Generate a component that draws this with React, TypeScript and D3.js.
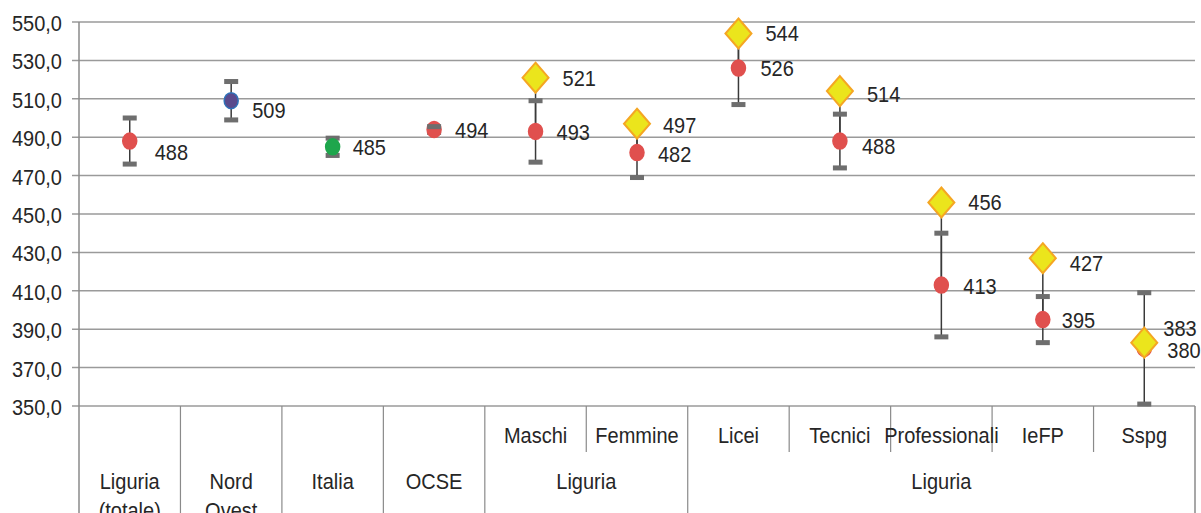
import React from "react";
import * as d3 from "d3";

const categories = ["Liguria (totale)", "Nord Ovest", "Italia", "OCSE", "Maschi", "Femmine", "Licei", "Tecnici", "Professionali", "IeFP", "Sspg"];
const catLines = [["Liguria", "(totale)"], ["Nord", "Ovest"], ["Italia"], ["OCSE"], ["Maschi"], ["Femmine"], ["Licei"], ["Tecnici"], ["Professionali"], ["IeFP"], ["Sspg"]];
const groupLabels = [
  { label: "Liguria", from: 4, to: 5 },
  { label: "Liguria", from: 6, to: 10 },
];
const means = [488, 509, 485, 494, 493, 482, 526, 488, 413, 395, 380];
const errors = [12, 10, 4.5, 1.5, 16, 13, 19, 14, 27, 12, 29];
const diamonds: (number | null)[] = [null, null, null, null, 521, 497, 544, 514, 456, 427, 383];
const meanFill = ["#e0504e", "#5a4a8c", "#1ea64c", "#e0504e", "#e0504e", "#e0504e", "#e0504e", "#e0504e", "#e0504e", "#e0504e", "#e0504e"];
const meanStroke = ["#e0504e", "#2f72b8", "#1ea64c", "#e0504e", "#e0504e", "#e0504e", "#e0504e", "#e0504e", "#e0504e", "#e0504e", "#e0504e"];
const meanLabelDy = [11, 9, 0, 1, 1, 2, 0, 5, 1, 0, 2];
const meanLabelDx = [25, 21, 20, 21, 21, 21, 22, 22, 22, 19, 23];
const diamondLabelDy = [0, 0, 0, 0, 0, 1, 0, 3, 0, 5, -15];
const diamondLabelDx = [27, 27, 27, 27, 27, 26, 27, 27, 27, 27, 19];
const upperCapOnTop = [false, false, false, true, false, false, false, false, false, false, false];
const yTicks = [350, 370, 390, 410, 430, 450, 470, 490, 510, 530, 550];

const W = 1201, H = 513;
const left = 79, right = 1195, top = 22, bottom = 406;
const SY = 1.12;
const FONT = "'Liberation Sans', Arial, sans-serif";

function T({ x, y, children, anchor = "start" }: any) {
  return (
    <text transform={`translate(${x},${y}) scale(1,${SY})`} textAnchor={anchor} dominantBaseline="central"
      fontFamily={FONT} fontSize={20} fill="#262626">{children}</text>
  );
}

export default function App() {
  const x = d3.scaleBand<number>().domain(d3.range(categories.length)).range([left, right]).padding(0);
  const y = d3.scaleLinear().domain([350, 550]).range([bottom, top]);
  const cx = (i: number) => (x(i) as number) + x.bandwidth() / 2;
  const fmt = (v: number) => d3.format(".1f")(v).replace(".", ",");
  const shortSep = new Set([5, 7, 8, 9, 10]);

  const cap = (i: number, v: number, key: string) => (
    <rect key={key} x={cx(i) - 7} y={y(v) - 2.5} width={14} height={5} fill="#6e6e6e" />
  );
  const errBar = (i: number) => {
    const m = means[i], e = errors[i];
    return (
      <g key={"e" + i}>
        <line x1={cx(i)} x2={cx(i)} y1={y(m + e)} y2={y(m - e)} stroke="#3a3a3a" strokeWidth={1.5} />
        {upperCapOnTop[i] ? null : cap(i, m + e, "u")}
        {cap(i, m - e, "l")}
      </g>
    );
  };

  return (
    <svg width={W} height={H} style={{ position: "absolute", left: 0, top: 0, background: "#fff" }}>
      {yTicks.map((t) => (
        <g key={t}>
          <line x1={left - 7} x2={right} y1={y(t)} y2={y(t)} stroke="#9a9a9a" strokeWidth={1.5} />
          <T x={62} y={y(t) + 1} anchor="end">{fmt(t)}</T>
        </g>
      ))}
      <line x1={left} x2={left} y1={top} y2={H} stroke="#8a8a8a" strokeWidth={1.5} />
      <line x1={right} x2={right} y1={bottom} y2={H} stroke="#8a8a8a" strokeWidth={1.5} />
      {d3.range(1, categories.length).map((i) => (
        <line key={"s" + i} x1={x(i) as number} x2={x(i) as number} y1={bottom} y2={shortSep.has(i) ? 452 : H}
          stroke="#8a8a8a" strokeWidth={1.2} />
      ))}
      {catLines.map((lines, i) => {
        const isGroup = groupLabels.some((g) => i >= g.from && i <= g.to);
        if (isGroup) return <T key={"c" + i} x={cx(i)} y={435} anchor="middle">{lines[0]}</T>;
        return lines.map((ln, k) => <T key={"c" + i + k} x={cx(i)} y={481 + k * 29} anchor="middle">{ln}</T>);
      })}
      {groupLabels.map((g, k) => (
        <T key={"g" + k} x={((x(g.from) as number) + (x(g.to) as number) + x.bandwidth()) / 2} y={481} anchor="middle">{g.label}</T>
      ))}
      {diamonds.map((dv, i) => dv == null ? null : (
        <line key={"d" + i} x1={cx(i)} x2={cx(i)} y1={y(dv)} y2={y(means[i])} stroke="#3a3a3a" strokeWidth={1.5} />
      ))}
      {means.map((_, i) => errBar(i))}
      {means.map((m, i) => (
        <ellipse key={"m" + i} cx={cx(i)} cy={y(m)} rx={7} ry={8} fill={meanFill[i]} stroke={meanStroke[i]} strokeWidth={1.5} />
      ))}
      {means.map((m, i) => (upperCapOnTop[i] ? cap(i, m + errors[i], "ut" + i) : null))}
      {diamonds.map((dv, i) => dv == null ? null : (
        <path key={"dm" + i} d={`M${cx(i)},${y(dv) - 15} L${cx(i) + 13},${y(dv)} L${cx(i)},${y(dv) + 15} L${cx(i) - 13},${y(dv)} Z`}
          fill="#ebe51c" stroke="#f5a623" strokeWidth={2} />
      ))}
      {means.map((m, i) => (
        <T key={"ml" + i} x={cx(i) + meanLabelDx[i]} y={y(m) + meanLabelDy[i]}>{m}</T>
      ))}
      {diamonds.map((dv, i) => dv == null ? null : (
        <T key={"dl" + i} x={cx(i) + diamondLabelDx[i]} y={y(dv) + diamondLabelDy[i]}>{dv}</T>
      ))}
    </svg>
  );
}
